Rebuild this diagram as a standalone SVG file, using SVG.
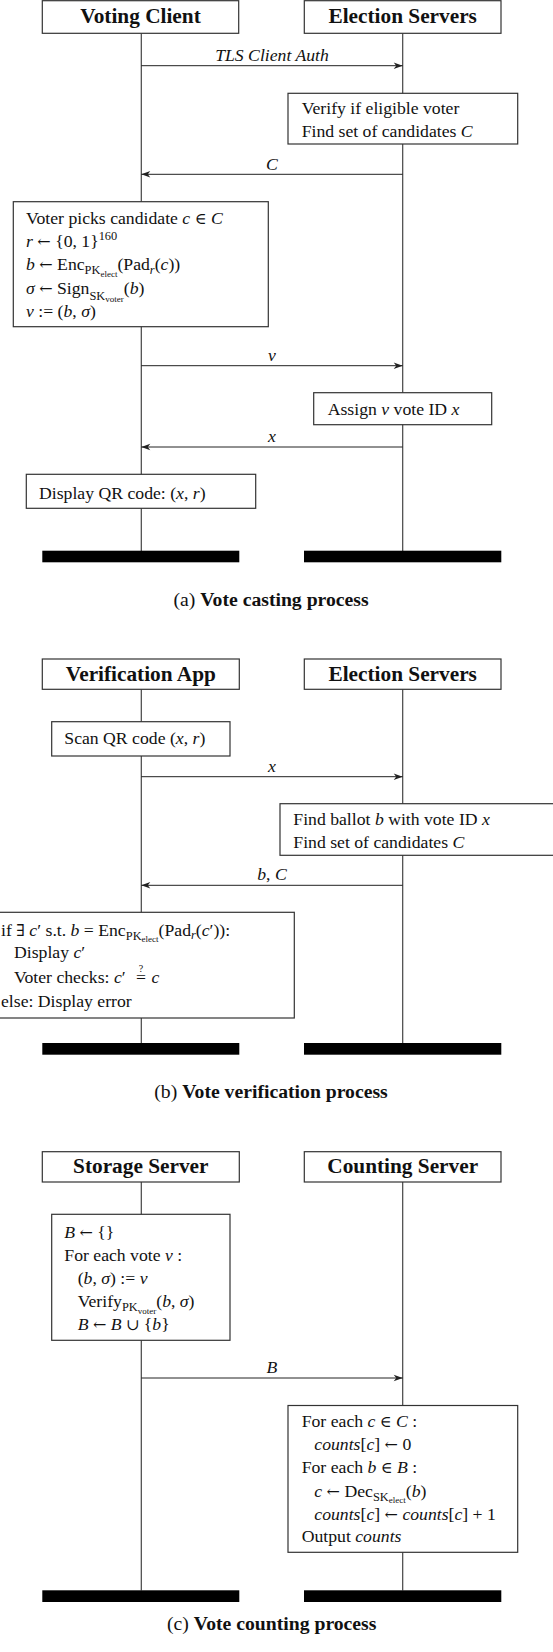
<svg xmlns="http://www.w3.org/2000/svg" width="553" height="1652" viewBox="0 0 553 1652" font-family="Liberation Serif, DejaVu Serif, serif">
<style>
rect.b{fill:#fff;stroke:#333;stroke-width:1.2}
rect.bar{fill:#000;stroke:none}
text{font-family:'Liberation Serif','DejaVu Serif',serif;font-size:17.7px;fill:#111}
text.h{font-weight:bold;font-size:21.3px;text-anchor:middle}
text.cap{font-size:19.7px;text-anchor:middle}
text.lbl{text-anchor:middle;font-style:italic}
.i{font-style:italic}
.bd{font-weight:bold}
.s{font-size:12.4px}
.ss{font-size:9px}
.q{font-size:10px}
.m{font-family:'DejaVu Serif',serif;font-size:16px}
line.life{stroke:#444;stroke-width:1.2}
line.msg{stroke:#222;stroke-width:1;marker-end:url(#ah)}
</style>
<defs>
<marker id="ah" viewBox="-10 -4 10 8" refX="0" refY="0" markerWidth="10" markerHeight="8" markerUnits="userSpaceOnUse" orient="auto">
<path d="M0,0 L-9,-3.3 L-6.5,0 L-9,3.3 Z" fill="#222"/>
</marker>
</defs>
<g id="lifelines">
<line class="life" x1="141.3" y1="33.3" x2="141.3" y2="551"/>
<line class="life" x1="402.7" y1="33.3" x2="402.7" y2="551"/>
<line class="life" x1="141.3" y1="689.3" x2="141.3" y2="1043.3"/>
<line class="life" x1="402.7" y1="689.3" x2="402.7" y2="1043.3"/>
<line class="life" x1="141.3" y1="1182" x2="141.3" y2="1590.5"/>
<line class="life" x1="402.7" y1="1182" x2="402.7" y2="1590.5"/>
</g>
<g id="nodes-a">
<g id="voting-client"><rect class="b" x="42.3" y="0.7" width="196.4" height="32.6"/><text class="h" x="140.5" y="23">Voting Client</text></g>
<g id="election-servers-a"><rect class="b" x="304.3" y="0.7" width="196.7" height="32.6"/><text class="h" x="402.7" y="23">Election Servers</text></g>
<g id="verify-eligible"><rect class="b" x="288" y="93.3" width="229.7" height="50.7"/>
<text x="301.7" y="114">Verify if eligible voter</text>
<text x="301.7" y="137.3">Find set of candidates <tspan class="i">C</tspan></text></g>
<g id="voter-picks"><rect class="b" x="13.3" y="201.7" width="255" height="125"/>
<text x="26" y="223.7">Voter picks candidate <tspan class="i">c</tspan> <tspan class="m">∈</tspan> <tspan class="i">C</tspan></text>
<text x="26" y="247"><tspan class="i">r</tspan> <tspan class="m">←</tspan> {0, 1}<tspan class="s" dy="-7">160</tspan></text>
<text x="26" y="270.3"><tspan class="i">b</tspan> <tspan class="m">←</tspan> Enc<tspan class="s" dy="4">PK</tspan><tspan class="ss" dy="2.5">elect</tspan><tspan dy="-6.5">(Pad</tspan><tspan class="s i" dy="3.5">r</tspan><tspan dy="-3.5">(</tspan><tspan class="i">c</tspan>))</text>
<text x="26" y="293.6"><tspan class="i">σ</tspan> <tspan class="m">←</tspan> Sign<tspan class="s" dy="6">SK</tspan><tspan class="ss" dy="2">voter</tspan><tspan dy="-8">(</tspan><tspan class="i">b</tspan>)</text>
<text x="26" y="316.9"><tspan class="i">v</tspan> := (<tspan class="i">b</tspan>, <tspan class="i">σ</tspan>)</text></g>
<g id="assign-id"><rect class="b" x="313.7" y="392.7" width="178" height="32"/>
<text x="327.7" y="415">Assign <tspan class="i">v</tspan> vote ID <tspan class="i">x</tspan></text></g>
<g id="display-qr"><rect class="b" x="26.3" y="474.3" width="229.4" height="34"/>
<text x="39" y="498.5">Display QR code: (<tspan class="i">x</tspan>, <tspan class="i">r</tspan>)</text></g>
<rect class="bar" x="42.3" y="550.7" width="197" height="11.6"/>
<rect class="bar" x="304" y="550.7" width="197.3" height="11.6"/>
<text class="cap" x="271" y="606">(a) <tspan class="bd">Vote casting process</tspan></text>
</g>
<g id="nodes-b">
<g id="verification-app"><rect class="b" x="42.3" y="659" width="197" height="30.3"/><text class="h" x="140.8" y="680.5">Verification App</text></g>
<g id="election-servers-b"><rect class="b" x="304.3" y="659" width="196.7" height="30.3"/><text class="h" x="402.7" y="680.5">Election Servers</text></g>
<g id="scan-qr"><rect class="b" x="51.7" y="721.7" width="178.3" height="34.3"/>
<text x="64.3" y="744">Scan QR code (<tspan class="i">x</tspan>, <tspan class="i">r</tspan>)</text></g>
<g id="find-ballot"><rect class="b" x="280" y="803.7" width="276" height="51.6"/>
<text x="293.3" y="825.3">Find ballot <tspan class="i">b</tspan> with vote ID <tspan class="i">x</tspan></text>
<text x="293.3" y="848">Find set of candidates <tspan class="i">C</tspan></text></g>
<g id="check-ballot"><rect class="b" x="-10" y="912.3" width="304.3" height="105.7"/>
<text x="1" y="935.7">if <tspan class="m">∃</tspan> <tspan class="i">c</tspan>′ s.t. <tspan class="i">b</tspan> = Enc<tspan class="s" dy="4">PK</tspan><tspan class="ss" dy="2.5">elect</tspan><tspan dy="-6.5">(Pad</tspan><tspan class="s i" dy="3.5">r</tspan><tspan dy="-3.5">(</tspan><tspan class="i">c</tspan>′)):</text>
<text x="14" y="958.3">Display <tspan class="i">c</tspan>′</text>
<text x="14" y="983.3">Voter checks: <tspan class="i">c</tspan>′<tspan x="136" y="983.3">=</tspan><tspan class="q" x="138.8" y="971.5">?</tspan><tspan class="i" x="151.5" y="983.3">c</tspan></text>
<text x="1" y="1006.7">else: Display error</text></g>
<rect class="bar" x="42.3" y="1043" width="197" height="11.7"/>
<rect class="bar" x="304" y="1043" width="197.3" height="11.7"/>
<text class="cap" x="271" y="1098.3">(b) <tspan class="bd">Vote verification process</tspan></text>
</g>
<g id="nodes-c">
<g id="storage-server"><rect class="b" x="42.3" y="1151.7" width="197" height="30.3"/><text class="h" x="140.8" y="1173">Storage Server</text></g>
<g id="counting-server"><rect class="b" x="304.3" y="1151.7" width="196.7" height="30.3"/><text class="h" x="402.7" y="1173">Counting Server</text></g>
<g id="collect-ballots"><rect class="b" x="51.7" y="1214.3" width="178.3" height="126"/>
<text x="64.3" y="1238.3"><tspan class="i">B</tspan> <tspan class="m">←</tspan> {}</text>
<text x="64.3" y="1261">For each vote <tspan class="i">v</tspan> :</text>
<text x="77.7" y="1284"><tspan>(</tspan><tspan class="i">b</tspan>, <tspan class="i">σ</tspan>) := <tspan class="i">v</tspan></text>
<text x="77.7" y="1307">Verify<tspan class="s" dy="4">PK</tspan><tspan class="ss" dy="2.5">voter</tspan><tspan dy="-6.5">(</tspan><tspan class="i">b</tspan>, <tspan class="i">σ</tspan>)</text>
<text x="77.7" y="1330.3"><tspan class="i">B</tspan> <tspan class="m">←</tspan> <tspan class="i">B</tspan> <tspan class="m">∪</tspan> {<tspan class="i">b</tspan>}</text></g>
<g id="count-votes"><rect class="b" x="288" y="1405.5" width="229.7" height="146.8"/>
<text x="301.7" y="1427">For each <tspan class="i">c</tspan> <tspan class="m">∈</tspan> <tspan class="i">C</tspan> :</text>
<text x="314.3" y="1450"><tspan class="i">counts</tspan>[<tspan class="i">c</tspan>] <tspan class="m">←</tspan> 0</text>
<text x="301.7" y="1473.3">For each <tspan class="i">b</tspan> <tspan class="m">∈</tspan> <tspan class="i">B</tspan> :</text>
<text x="314.3" y="1496.5"><tspan class="i">c</tspan> <tspan class="m">←</tspan> Dec<tspan class="s" dy="4">SK</tspan><tspan class="ss" dy="2.5">elect</tspan><tspan dy="-6.5">(</tspan><tspan class="i">b</tspan>)</text>
<text x="314.3" y="1519.7"><tspan class="i">counts</tspan>[<tspan class="i">c</tspan>] <tspan class="m">←</tspan> <tspan class="i">counts</tspan>[<tspan class="i">c</tspan>] + 1</text>
<text x="301.7" y="1542">Output <tspan class="i">counts</tspan></text></g>
<rect class="bar" x="42.3" y="1590.3" width="197" height="11.7"/>
<rect class="bar" x="304" y="1590.3" width="197.3" height="11.7"/>
<text class="cap" x="271.7" y="1630">(c) <tspan class="bd">Vote counting process</tspan></text>
</g>
<g id="connectors">
<line class="msg" x1="141.3" y1="65.7" x2="402.7" y2="65.7"/>
<text class="lbl" x="272" y="60.5">TLS Client Auth</text>
<line class="msg" x1="402.7" y1="174.3" x2="141.3" y2="174.3"/>
<text class="lbl" x="272" y="169.5">C</text>
<line class="msg" x1="141.3" y1="365.7" x2="402.7" y2="365.7"/>
<text class="lbl" x="272" y="360.5">v</text>
<line class="msg" x1="402.7" y1="447" x2="141.3" y2="447"/>
<text class="lbl" x="272" y="442">x</text>
<line class="msg" x1="141.3" y1="776.7" x2="402.7" y2="776.7"/>
<text class="lbl" x="272" y="771.5">x</text>
<line class="msg" x1="402.7" y1="885.3" x2="141.3" y2="885.3"/>
<text class="lbl" x="272" y="880">b<tspan style="font-style:normal">, </tspan>C</text>
<line class="msg" x1="141.3" y1="1378" x2="402.7" y2="1378"/>
<text class="lbl" x="272" y="1373">B</text>
</g>
</svg>
